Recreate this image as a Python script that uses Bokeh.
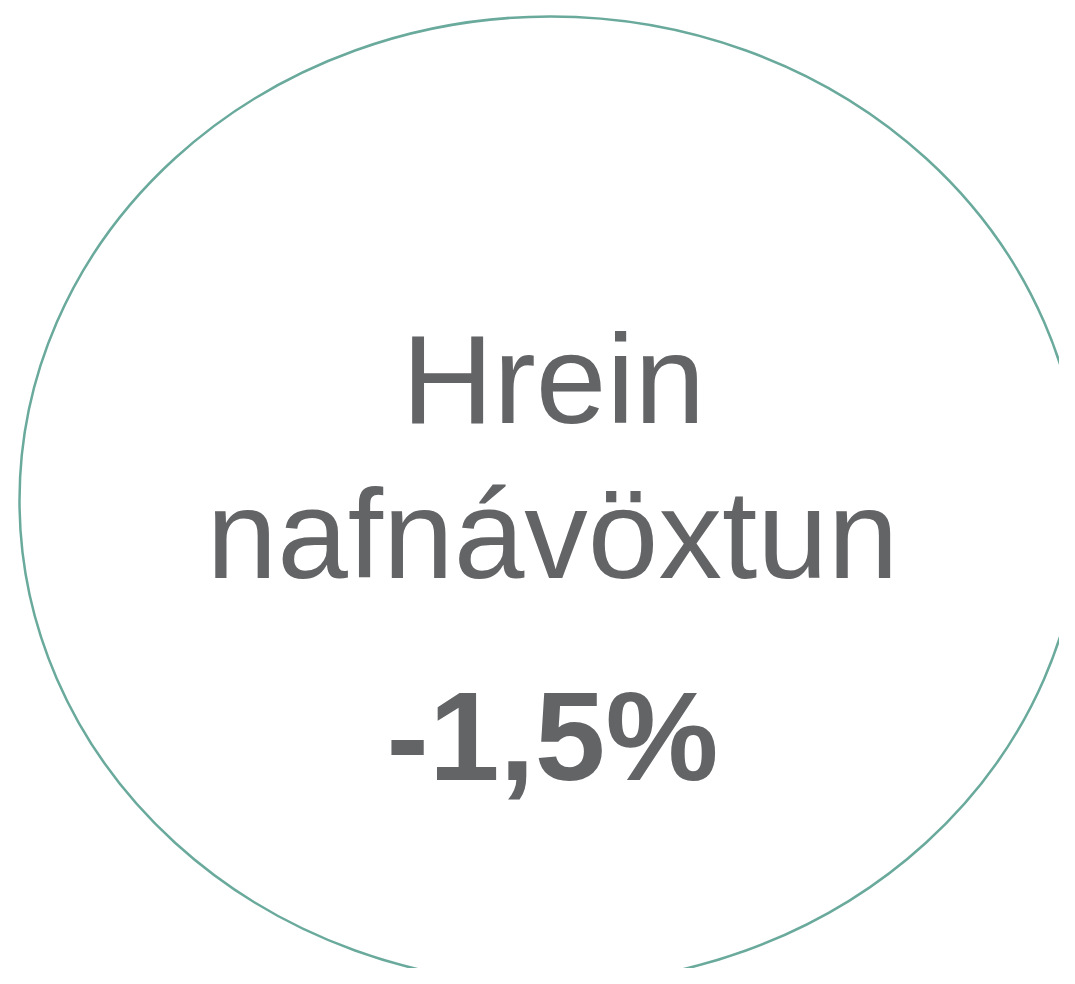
from bokeh.plotting import figure
from bokeh.models import Range1d
from bokeh.core.properties import value
from bokeh.embed import file_html
from bokeh.resources import INLINE

# Content
title_lines = ["Hrein", "nafnávöxtun"]
figure_text = ["-1,5%"]

TEXT_COLOR = "#636466"
RING_COLOR = "#6aaa9c"

p = figure(width=1059, height=968, output_backend="svg", toolbar_location=None,
           x_range=Range1d(0, 1059), y_range=Range1d(968, 0),
           min_border=0)
p.axis.visible = False
p.grid.visible = False
p.outline_line_color = None
p.background_fill_color = "white"
p.border_fill_color = "white"

p.ellipse(x=[550], y=[500], width=1062, height=968, fill_color=None,
          line_color=RING_COLOR, line_width=2.5)

p.text(x=[553, 552], y=[378, 533], text=title_lines,
       text_font=value("Liberation Sans"), text_font_size="127px",
       text_color=TEXT_COLOR, text_align="center", text_baseline="alphabetic")

p.text(x=[552], y=[735], text=figure_text,
       text_font=value("Liberation Sans"), text_font_size="127px",
       text_font_style="bold",
       text_color=TEXT_COLOR, text_align="center", text_baseline="alphabetic")

open("out.html", "w").write(file_html(p, INLINE))
